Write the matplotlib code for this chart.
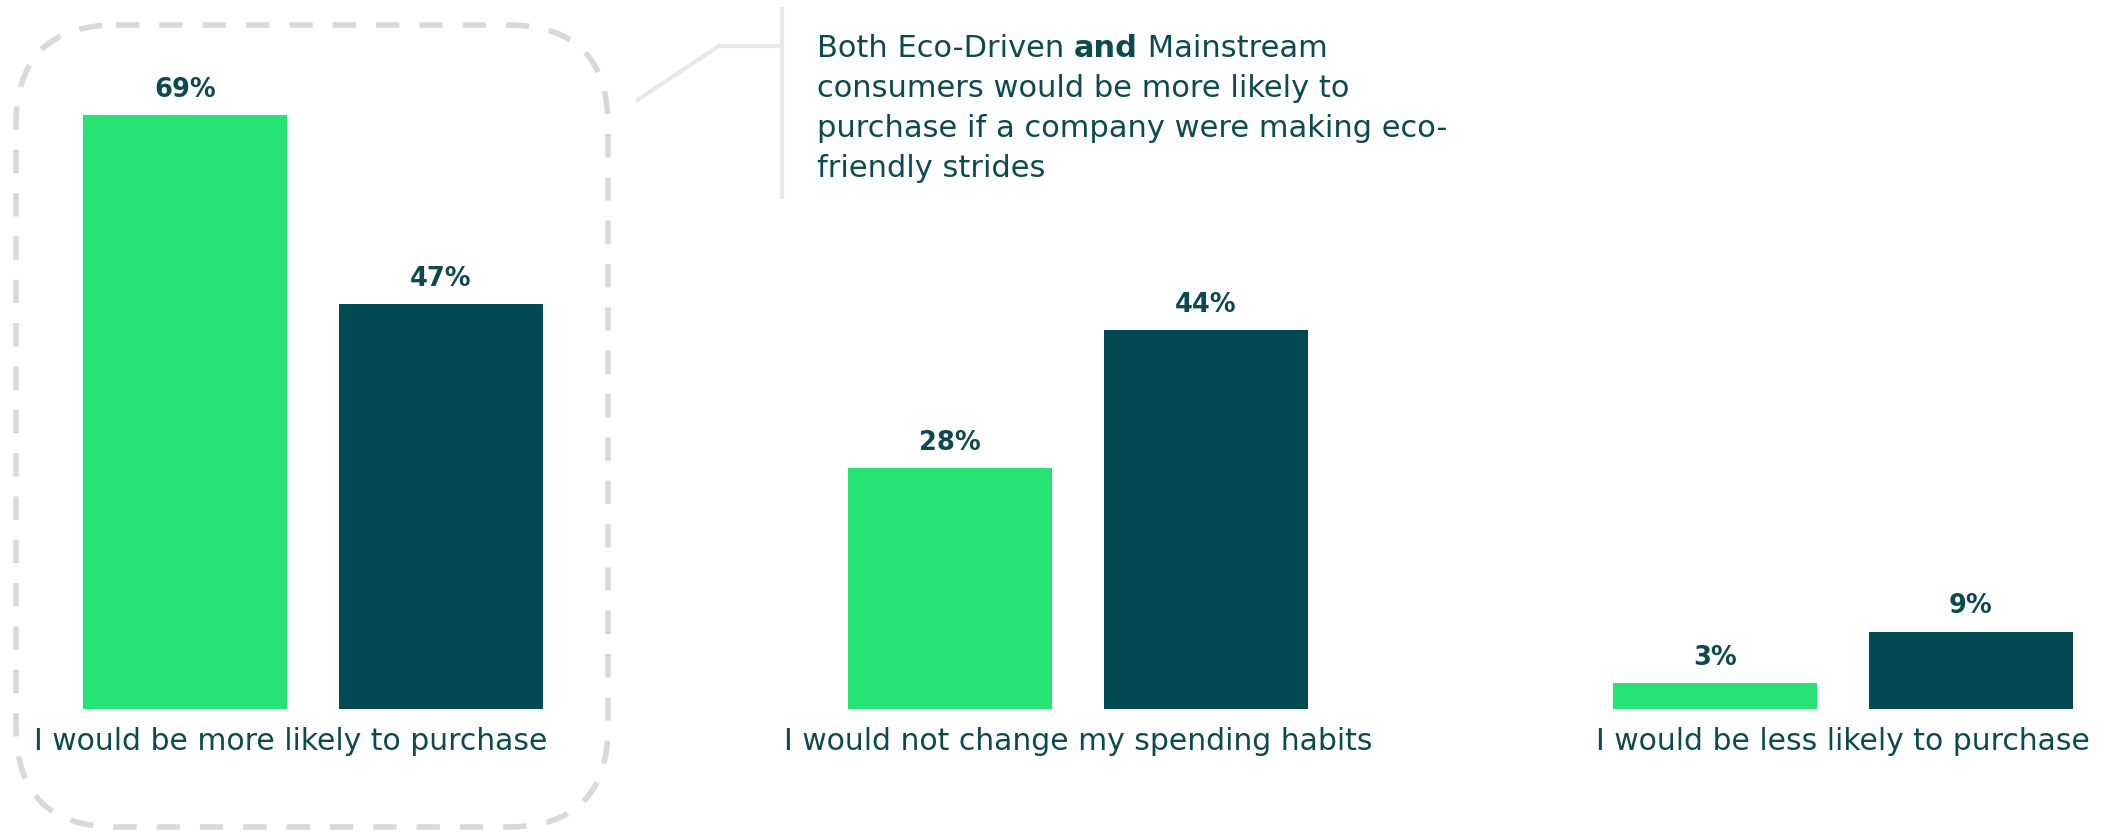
#!/usr/bin/env python3
"""Purchase intent by consumer segment when a company makes eco-friendly strides."""
import matplotlib
matplotlib.use("Agg")
import matplotlib.pyplot as plt
import numpy as np
from matplotlib.patches import FancyBboxPatch

categories = [
    "I would be more likely to purchase",
    "I would not change my spending habits",
    "I would be less likely to purchase",
]
eco_driven = [69, 28, 3]
mainstream = [47, 44, 9]

callout_lines = [
    [("Both Eco-Driven ", "normal"), ("and", "bold"), (" Mainstream", "normal")],
    [("consumers would be more likely to", "normal")],
    [("purchase if a company were making eco-", "normal")],
    [("friendly strides", "normal")],
]

GREEN = "#26e373"
TEAL = "#024a53"
TEXT = "#0c4a50"
GREY = "#d9d9d9"
FONT = "DejaVu Sans"

W, H, DPI = 2108, 833, 100
fig = plt.figure(figsize=(W / DPI, H / DPI), dpi=DPI)
fig.patch.set_facecolor("white")

# bar axes: baseline sits at y=709 px, 1% is ~8.61 px tall
base_px = 709
px_per_pct = 8.61
ymax = 80
ax_h = ymax * px_per_pct
ax = fig.add_axes([0, (H - base_px) / H, 1, ax_h / H])
ax.set_ylim(0, ymax)

group_px = 765.0
first_center = 313.0
ax.set_xlim(-first_center / group_px, (W - first_center) / group_px)

x = np.arange(len(categories))
bar_w = 204 / group_px
offset = 128 / group_px

b1 = ax.bar(x - offset, eco_driven, width=bar_w, color=GREEN, label="Eco-Driven")
b2 = ax.bar(x + offset, mainstream, width=bar_w, color=TEAL, label="Mainstream")

for bars, vals in ((b1, eco_driven), (b2, mainstream)):
    for rect, v in zip(bars, vals):
        ax.annotate(f"{v}%", (rect.get_x() + rect.get_width() / 2, v),
                    xytext=(0, 13), textcoords="offset points",
                    ha="center", va="baseline", fontsize=18.5, fontweight="bold",
                    color=TEXT, family=FONT)

# category labels under each group; the first one hangs a little to the left
label_shift = [-22 / group_px, 0, 0]
for xi, name, dx in zip(x, categories, label_shift):
    ax.text(xi + dx, -41 / ax_h, name, transform=ax.get_xaxis_transform(),
            ha="center", va="baseline", fontsize=21.5, color=TEXT, family=FONT)

ax.axis("off")

# overlay in pixel units for the highlight box and the callout
ov = fig.add_axes([0, 0, 1, 1], zorder=-1)
ov.set_xlim(0, W)
ov.set_ylim(H, 0)
ov.axis("off")

box = FancyBboxPatch((16, 25), 592, 802,
                     boxstyle="round,pad=0,rounding_size=100",
                     fill=False, edgecolor=GREY, linewidth=4,
                     linestyle=(0, (4.2, 3.6)), capstyle="butt")
ov.add_patch(box)

ov.plot([636, 719, 782], [101, 46, 46], color="#e8e8e8", linewidth=3,
        solid_capstyle="butt")
ov.plot([782, 782], [7, 199], color="#e8e8e8", linewidth=3,
        solid_capstyle="butt")

fig.canvas.draw()
renderer = fig.canvas.get_renderer()
line_y = [57, 97, 137, 177]
for parts, y in zip(callout_lines, line_y):
    cur = 817.0
    for txt, weight in parts:
        t = ov.text(cur, y, txt, ha="left", va="baseline", fontsize=22,
                    fontweight=weight, color=TEXT, family=FONT)
        bb = t.get_window_extent(renderer=renderer)
        cur += bb.width

fig.savefig("out.png", dpi=DPI, facecolor="white")
